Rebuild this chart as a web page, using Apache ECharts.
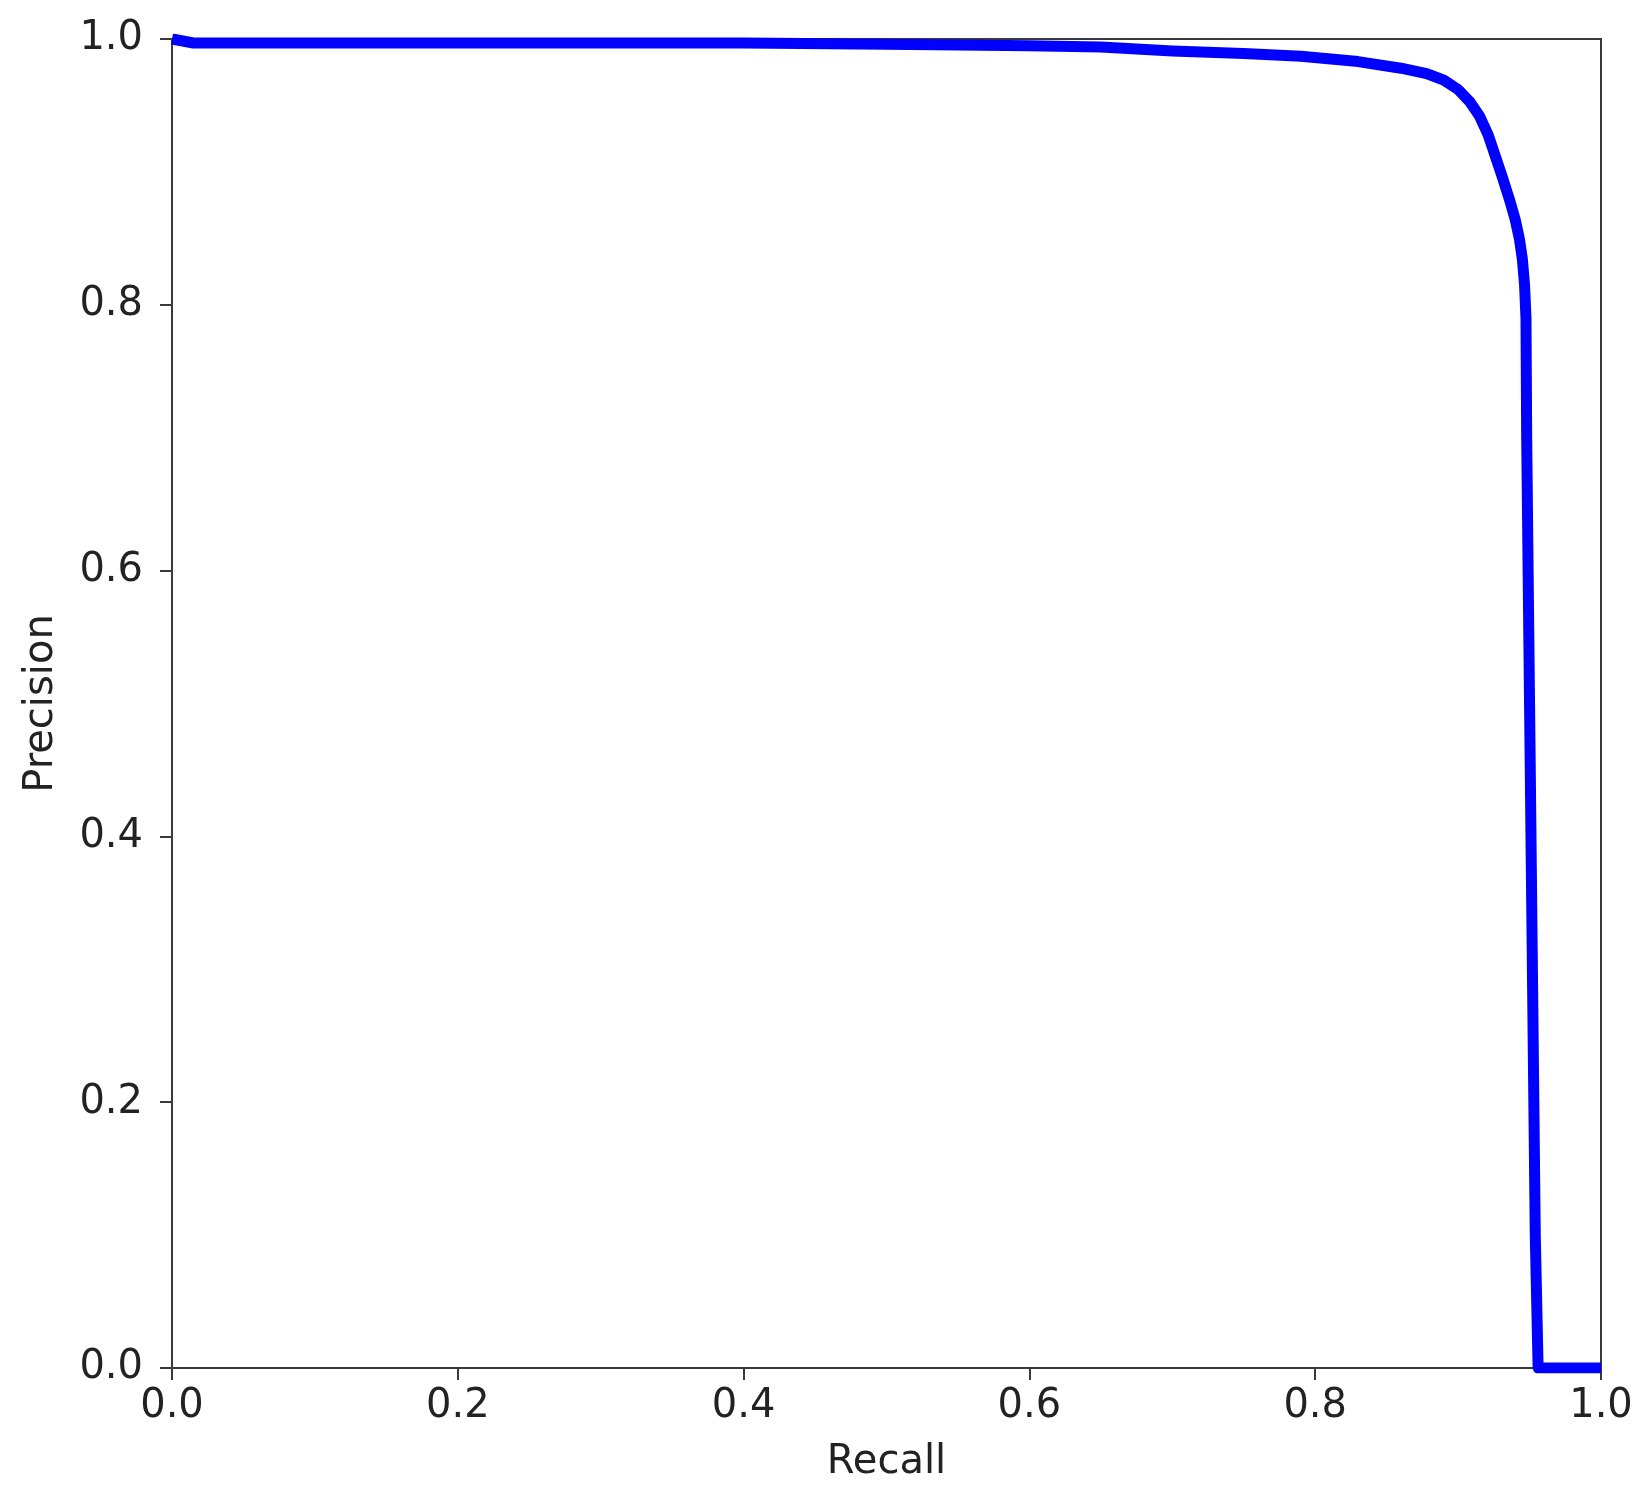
<!DOCTYPE html>
<html>
<head>
<meta charset="utf-8">
<script src="https://cdn.jsdelivr.net/npm/echarts@6/dist/echarts.min.js"></script>
<style>
html,body{margin:0;padding:0;background:#fff;}
#chart{width:1650px;height:1504px;}
</style>
</head>
<body>
<div id="chart"></div>
<script>
// Recall values (x)
const recall = [0, 0.015, 0.1, 0.2, 0.3, 0.4, 0.5, 0.6, 0.65, 0.7, 0.75, 0.79, 0.83, 0.86, 0.878, 0.89, 0.9, 0.908, 0.915, 0.921, 0.926, 0.931, 0.936, 0.940, 0.943, 0.945, 0.9465, 0.9475, 0.948, 0.950, 0.952, 0.954, 0.956, 1.0];
// Precision values (y)
const precision = [1.0, 0.997, 0.997, 0.997, 0.997, 0.997, 0.996, 0.995, 0.994, 0.991, 0.989, 0.987, 0.983, 0.978, 0.974, 0.969, 0.962, 0.953, 0.942, 0.928, 0.912, 0.896, 0.879, 0.864, 0.849, 0.834, 0.815, 0.79, 0.7, 0.5, 0.3, 0.1, 0.0, 0.0];
const xTitle = 'Recall';
const yTitle = 'Precision';

const points = recall.map((r, i) => [r, precision[i]]);
const font = 'DejaVu Sans';
const axisCol = '#3a3a3a';

const chart = echarts.init(document.getElementById('chart'), null, {renderer: 'canvas'});
chart.setOption({
  backgroundColor: '#ffffff',
  animation: false,
  grid: {left: 172, top: 39, width: 1429, height: 1329, show: true, borderColor: axisCol, borderWidth: 2, backgroundColor: 'transparent'},
  xAxis: {
    type: 'value', min: 0, max: 1, interval: 0.2,
    name: xTitle, nameLocation: 'middle', nameGap: 75,
    nameTextStyle: {fontFamily: font, fontSize: 40, color: '#222'},
    axisLine: {show: true, lineStyle: {color: axisCol, width: 2}},
    axisTick: {show: true, length: 12, lineStyle: {color: axisCol, width: 2}},
    axisLabel: {fontFamily: font, fontSize: 40, color: '#222', margin: 19, formatter: v => v.toFixed(1)},
    splitLine: {show: false}
  },
  yAxis: {
    type: 'value', min: 0, max: 1, interval: 0.2,
    name: yTitle, nameLocation: 'middle', nameGap: 110,
    nameTextStyle: {fontFamily: font, fontSize: 40, color: '#222'},
    axisLine: {show: true, lineStyle: {color: axisCol, width: 2}},
    axisTick: {show: true, length: 12, lineStyle: {color: axisCol, width: 2}},
    axisLabel: {fontFamily: font, fontSize: 40, color: '#222', margin: 29, formatter: v => v.toFixed(1)},
    splitLine: {show: false}
  },
  series: [{
    type: 'line',
    data: points,
    showSymbol: false,
    smooth: false,
    clip: true,
    lineStyle: {color: '#0000ff', width: 11, join: 'round', cap: 'butt'},
    itemStyle: {color: '#0000ff'}
  }]
});
</script>
</body>
</html>
